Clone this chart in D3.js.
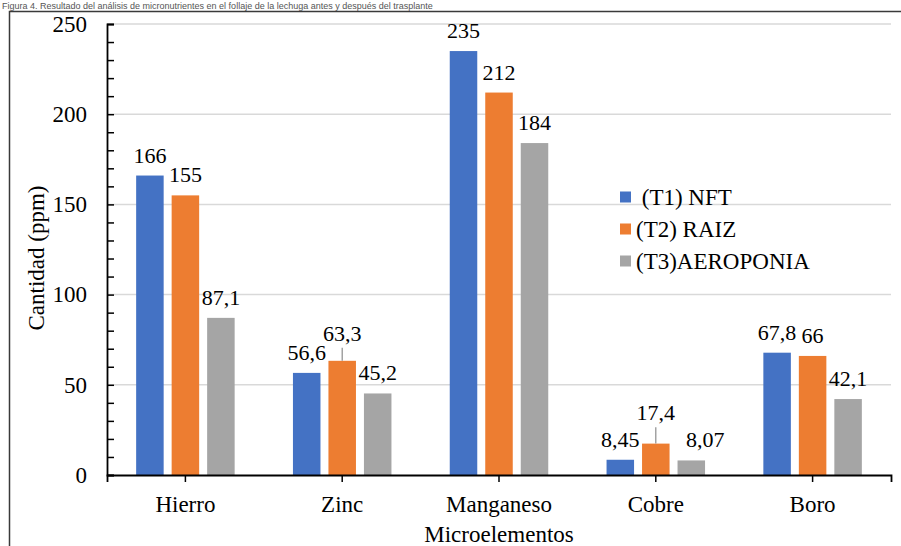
<!DOCTYPE html>
<html>
<head>
<meta charset="utf-8">
<script src="https://cdn.jsdelivr.net/npm/d3@7"></script>
<style>
  html, body { margin: 0; padding: 0; background: #fff; }
  svg { display: block; }
</style>
</head>
<body>
<svg id="chart" width="901" height="546"></svg>
<script>
// Micronutrient content per treatment
const categories = ["Hierro", "Zinc", "Manganeso", "Cobre", "Boro"];
const seriesNames = [" (T1) NFT", "(T2) RAIZ", "(T3)AEROPONIA"];
const nftValues = [166, 56.6, 235, 8.45, 67.8];
const raizValues = [155, 63.3, 212, 17.4, 66];
const aeroValues = [87.1, 45.2, 184, 8.07, 42.1];
// upper error bars on the RAIZ series (null = none)
const raizErrors = [null, 7.3, null, 9, null];
const yTicks = [0, 50, 100, 150, 200, 250];
const colors = ["#4472C4", "#ED7D31", "#A5A5A5"];
const caption = "Figura 4. Resultado del análisis de micronutrientes en el follaje de la lechuga antes y después del trasplante";

const seriesValues = [nftValues, raizValues, aeroValues];
const fmt = v => String(v).replace(".", ",");
const SERIF = "'Liberation Serif', 'Times New Roman', serif";

const svg = d3.select("#chart");
const W = 901, H = 546;
const plot = { left: 107, right: 891, top: 24, bottom: 475 };

svg.append("rect").attr("width", W).attr("height", H).attr("fill", "#fff");

// caption line above the frame
svg.append("text")
  .attr("x", 2).attr("y", 8.5)
  .attr("font-family", "Arial, 'Liberation Sans', sans-serif")
  .attr("font-size", 9).attr("fill", "#555")
  .text(caption);

// chart frame
svg.append("rect")
  .attr("x", 9.5).attr("y", 11.5).attr("width", 920).attr("height", 560)
  .attr("fill", "none").attr("stroke", "#3a3a3a").attr("stroke-width", 1.5);

const x = d3.scaleBand().domain(categories).range([plot.left, plot.right]).padding(0);
const inner = d3.scaleBand().domain(d3.range(3))
  .range([-49.25, 49.25]).paddingInner(0.225).paddingOuter(0);
const y = d3.scaleLinear().domain([0, 250]).range([plot.bottom, plot.top]);

// gridlines
svg.append("g").selectAll("line").data(yTicks.filter(t => t > 0)).join("line")
  .attr("x1", plot.left).attr("x2", plot.right)
  .attr("y1", d => y(d)).attr("y2", d => y(d))
  .attr("stroke", "#D9D9D9").attr("stroke-width", 1.5);

// bars
const groups = svg.append("g").selectAll("g").data(categories).join("g")
  .attr("transform", d => `translate(${x(d) + x.bandwidth() / 2},0)`);

groups.selectAll("rect")
  .data((c, i) => seriesValues.map((vals, s) => ({ s, v: vals[i] })))
  .join("rect")
  .attr("x", d => inner(d.s))
  .attr("width", inner.bandwidth())
  .attr("y", d => y(d.v))
  .attr("height", d => y(0) - y(d.v))
  .attr("fill", d => colors[d.s]);

// error bars
groups.each(function (c, i) {
  const e = raizErrors[i];
  if (e == null) return;
  const cx = inner(1) + inner.bandwidth() / 2;
  d3.select(this).append("line")
    .attr("x1", cx).attr("x2", cx)
    .attr("y1", y(raizValues[i])).attr("y2", y(raizValues[i] + e))
    .attr("stroke", "#8c8c8c").attr("stroke-width", 1.2);
});

// value labels
const labelNudge = { "3-2": 14 };
groups.each(function (c, i) {
  const g = d3.select(this);
  seriesValues.forEach((vals, s) => {
    const v = vals[i];
    const top = (s === 1 && raizErrors[i] != null) ? y(v + raizErrors[i]) - 7 : y(v) - 13;
    g.append("text")
      .attr("font-family", SERIF).attr("fill", "#000")
      .attr("x", inner(s) + inner.bandwidth() / 2 + (labelNudge[i + "-" + s] || 0))
      .attr("y", top)
      .attr("text-anchor", "middle")
      .attr("font-size", 22)
      .text(fmt(v));
  });
});

// y axis: labels on the left, minor tick marks inside
const yLabels = d3.axisLeft(y).tickValues(yTicks).tickSize(0).tickPadding(20);
const yg = svg.append("g").attr("transform", `translate(${plot.left},0)`).call(yLabels);
yg.select(".domain").remove();
yg.attr("font-family", SERIF).attr("font-size", 23);
yg.selectAll("text").attr("fill", "#000");

const yMarks = d3.axisRight(y).ticks(25).tickSize(7).tickSizeOuter(7).tickFormat("");
const ym = svg.append("g").attr("transform", `translate(${plot.left},0)`).call(yMarks);
ym.selectAll("line").attr("stroke", "#000").attr("stroke-width", 1.5);
ym.select(".domain").attr("stroke", "#000").attr("stroke-width", 1.8);

// x axis
const xAxis = d3.axisBottom(x).tickSize(7).tickSizeOuter(7).tickPadding(14);
const xg = svg.append("g").attr("transform", `translate(0,${plot.bottom})`).call(xAxis);
xg.attr("font-family", SERIF).attr("font-size", 23);
xg.select(".domain").attr("stroke", "#000").attr("stroke-width", 1.8);
xg.selectAll(".tick line").attr("stroke", "#000").attr("stroke-width", 1.5);
xg.selectAll("text").attr("fill", "#000");

// axis titles
svg.append("text")
  .attr("font-family", SERIF).attr("fill", "#000")
  .attr("transform", `translate(44,258) rotate(-90)`)
  .attr("text-anchor", "middle").attr("font-size", 23)
  .text("Cantidad (ppm)");

svg.append("text")
  .attr("font-family", SERIF).attr("fill", "#000")
  .attr("x", (plot.left + plot.right) / 2).attr("y", 542)
  .attr("text-anchor", "middle").attr("font-size", 23)
  .text("Microelementos");

// legend
const legend = svg.append("g").selectAll("g").data(seriesNames).join("g")
  .attr("transform", (d, i) => `translate(620,${197 + i * 32})`);
legend.append("rect").attr("x", 0).attr("y", -5.5).attr("width", 11).attr("height", 11)
  .attr("fill", (d, i) => colors[i]);
legend.append("text")
  .attr("font-family", SERIF).attr("fill", "#000")
  .attr("x", 16).attr("y", 0).attr("dy", "0.35em")
  .attr("font-size", 23)
  .style("white-space", "pre")
  .text(d => d);
</script>
</body>
</html>
